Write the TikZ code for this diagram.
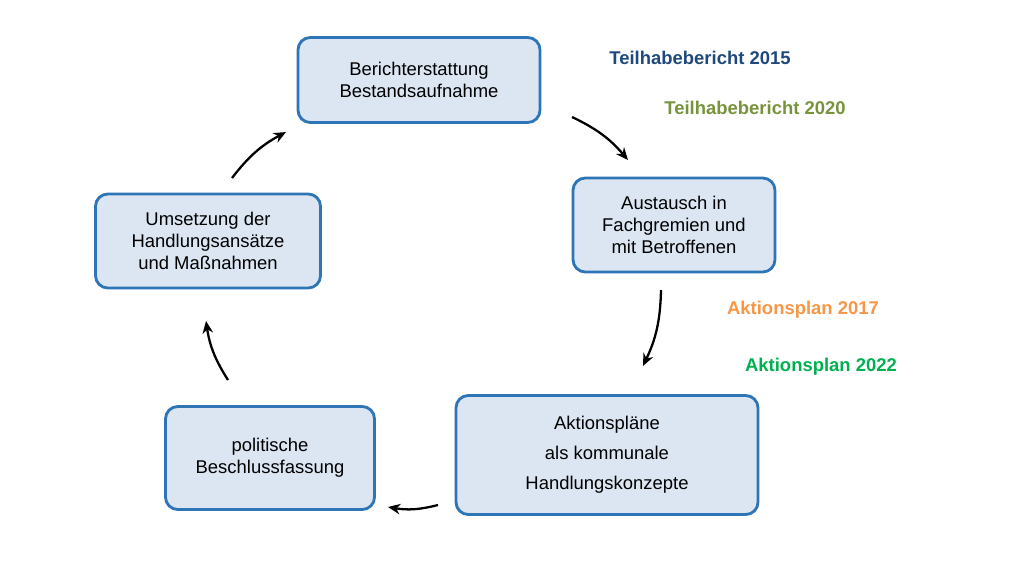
\documentclass[tikz,border=0pt]{standalone}
\usepackage{fontspec}
\setmainfont{Liberation Sans}
\usetikzlibrary{arrows.meta}
\definecolor{bfill}{RGB}{220,230,242}
\definecolor{bdraw}{RGB}{46,117,182}
\definecolor{cA}{RGB}{31,73,125}
\definecolor{cB}{RGB}{119,147,60}
\definecolor{cC}{RGB}{247,150,70}
\definecolor{cD}{RGB}{0,176,80}
\begin{document}
\begin{tikzpicture}[x=0.02cm,y=-0.02cm,
  box/.style={draw=bdraw,fill=bfill,line width=1.6pt,rounded corners=7pt,align=center,
    font=\fontsize{10.5}{12.5}\selectfont,inner sep=0pt},
  lab/.style={font=\bfseries\fontsize{10.5}{12.5}\selectfont},
  arr/.style={-{Stealth[length=7pt,width=6pt]},line width=1.3pt}]
\useasboundingbox (0,0) rectangle (1010,561);
\node[box,minimum width=242*0.02cm,minimum height=85*0.02cm] (b1) at (419,80) {Berichterstattung\\Bestandsaufnahme};
\node[box,minimum width=202*0.02cm,minimum height=94*0.02cm] (b2) at (674,225) {Austausch in\\Fachgremien und\\mit Betroffenen};
\node[box,minimum width=302*0.02cm,minimum height=119*0.02cm,font=\fontsize{10.5}{17}\selectfont] (b3) at (607,455) {Aktionspläne\\als kommunale\\Handlungskonzepte};
\node[box,minimum width=209*0.02cm,minimum height=103*0.02cm] (b4) at (270,458) {politische\\Beschlussfassung};
\node[box,minimum width=225*0.02cm,minimum height=94*0.02cm] (b5) at (208,241) {Umsetzung der\\Handlungsansätze\\und Maßnahmen};
\node[lab,text=cA] (l1) at (700,58) {Teilhabebericht 2015};
\node[lab,text=cB] (l2) at (755,108) {Teilhabebericht 2020};
\node[lab,text=cC] (l3) at (803,310) {Aktionsplan 2017};
\node[lab,text=cD] (l4) at (821,367) {Aktionsplan 2022};
\coordinate (a1s) at (572,117); \coordinate (a1e) at (628,160);
\coordinate (a2s) at (661,290); \coordinate (a2e) at (643,366);
\coordinate (a3s) at (438,505); \coordinate (a3e) at (388,507);
\coordinate (a4s) at (228,380); \coordinate (a4e) at (206,321);
\coordinate (a5s) at (232,178); \coordinate (a5e) at (286,132);
\draw[arr] (a1s) to[bend left=12] (a1e);
\draw[arr] (a2s) to[bend left=12] (a2e);
\draw[arr] (a3s) to[bend left=12] (a3e);
\draw[arr] (a4s) to[bend left=12] (a4e);
\draw[arr] (a5s) to[bend left=12] (a5e);
\end{tikzpicture}
\end{document}
